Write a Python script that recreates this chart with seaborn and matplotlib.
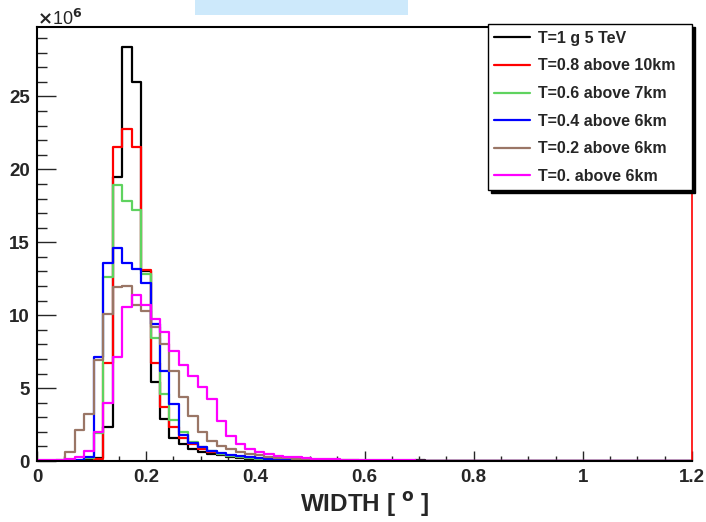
"""
WIDTH distributions for different atmospheric transmission settings (ROOT-style histogram look).
"""

import numpy as np
import pandas as pd
import matplotlib
matplotlib.use("Agg")
import matplotlib.pyplot as plt
import seaborn as sns
from matplotlib.lines import Line2D
from matplotlib.patches import Rectangle
from matplotlib.ticker import MultipleLocator

# histogram binning (fixed bin width, axis shows 0 - 1.2 deg)
BIN_WIDTH = 1.3 / 75
N_BINS = 70

# bin contents in units of 1e6 (first bins, rest empty)
T10 = [0, 0, 0, 0, 0.02, 0.05, 0.2, 2.3, 19.5, 28.4, 26.0, 13.0, 5.4, 2.9, 1.6,
       1.15, 0.85, 0.65, 0.5, 0.38, 0.28, 0.2, 0.15, 0.12, 0.1, 0.08, 0.06, 0.05,
       0.04, 0.03, 0.03, 0.02, 0.02, 0.02, 0.01, 0.01, 0.01, 0, 0, 0, 0.04, 0.03]
T08 = [0, 0, 0, 0, 0, 0.02, 0.15, 6.7, 21.5, 22.8, 21.5, 13.1, 6.7, 3.7, 2.3,
       1.6, 1.15, 0.82, 0.6, 0.45, 0.33, 0.25, 0.19, 0.15, 0.12, 0.09, 0.07, 0.05,
       0.04, 0.03, 0.03, 0.02, 0.02, 0.01, 0.01]
T06 = [0, 0, 0, 0, 0, 0.2, 1.9, 12.6, 18.9, 17.8, 17.2, 12.8, 8.4, 4.6, 2.8,
       1.96, 1.28, 0.95, 0.66, 0.48, 0.36, 0.27, 0.2, 0.16, 0.12, 0.1, 0.08, 0.06,
       0.05, 0.04, 0.03, 0.02, 0.02, 0.01]
T04 = [0, 0, 0, 0, 0.05, 0.3, 7.1, 13.6, 14.6, 13.6, 13.2, 12.2, 9.4, 6.2, 3.9,
       1.8, 1.2, 0.95, 0.7, 0.55, 0.42, 0.32, 0.25, 0.2, 0.16, 0.13, 0.1, 0.08,
       0.06, 0.05, 0.04, 0.03, 0.02, 0.02, 0.01]
T02 = [0, 0, 0.1, 0.6, 2.1, 3.2, 6.9, 10.1, 11.9, 12.0, 10.7, 10.3, 9.2, 8.0, 6.2,
       4.4, 3.1, 1.96, 1.4, 1.0, 0.82, 0.6, 0.48, 0.38, 0.3, 0.24, 0.19, 0.15,
       0.12, 0.1, 0.08, 0.06, 0.05, 0.04, 0.03, 0.02, 0.02, 0.01]
T00 = [0.08, 0.08, 0.1, 0.12, 0.25, 0.7, 2.0, 4.0, 7.1, 10.55, 11.35, 10.67, 9.75,
       8.83, 7.57, 6.55, 5.86, 5.06, 4.26, 2.77, 1.74, 1.17, 0.82, 0.6, 0.45, 0.36,
       0.3, 0.25, 0.2, 0.17, 0.14, 0.12, 0.1, 0.09, 0.08, 0.07, 0.06, 0.05, 0.04,
       0.04, 0.03, 0.03, 0.02, 0.02, 0.02, 0.01, 0.01]

LABELS = ["T=1 g 5 TeV", "T=0.8 above 10km", "T=0.6 above 7km",
          "T=0.4 above 6km", "T=0.2 above 6km", "T=0. above 6km"]
COLORS = ["#000000", "#ff0000", "#5fd35f", "#0000ff", "#9a7666", "#ff00ff"]
SERIES = [T10, T08, T06, T04, T02, T00]

X_TICKS = [0, 0.2, 0.4, 0.6, 0.8, 1.0, 1.2]
X_TICKLABELS = ["0", "0.2", "0.4", "0.6", "0.8", "1", "1.2"]
Y_TICKS = [0, 5, 10, 15, 20, 25]


def main():
    sns.set_theme(style="white")
    plt.rcParams["font.family"] = ["Liberation Sans", "DejaVu Sans"]
    plt.rcParams["font.weight"] = "bold"

    edges = np.arange(N_BINS + 1) * BIN_WIDTH
    centers = 0.5 * (edges[:-1] + edges[1:])

    fig = plt.figure(figsize=(7.06, 5.22), dpi=100)
    ax = fig.add_axes([37 / 706, 61 / 522, 655 / 706, 434 / 522])

    for label, color, vals in zip(LABELS, COLORS, SERIES):
        counts = np.zeros(N_BINS)
        counts[:len(vals)] = vals
        df = pd.DataFrame({"width": centers, "count": counts})
        sns.histplot(
            data=df, x="width", weights="count", bins=edges.tolist(),
            element="step", fill=False, color=color, linewidth=1.6,
            ax=ax,
        )

    ax.set_xlim(0, 1.2)
    ax.set_ylim(0, 29.76)
    ax.set_xticks(X_TICKS, X_TICKLABELS)
    ax.set_yticks(Y_TICKS, [str(t) for t in Y_TICKS])
    ax.xaxis.set_minor_locator(MultipleLocator(0.05))
    ax.yaxis.set_minor_locator(MultipleLocator(1))
    ax.tick_params(axis="x", which="major", direction="in", length=7, width=1,
                   labelsize=13.5, pad=6, bottom=True)
    ax.tick_params(axis="x", which="minor", direction="in", length=3.6, width=1,
                   bottom=True)
    ax.tick_params(axis="y", which="major", direction="in", length=13.5, width=1,
                   labelsize=13.5, pad=5, left=True)
    ax.tick_params(axis="y", which="minor", direction="in", length=7, width=1,
                   left=True)
    ax.set_xlabel("")
    ax.set_ylabel("")
    ax.grid(False)

    for side in ["left", "bottom", "top"]:
        ax.spines[side].set_color("black")
        ax.spines[side].set_linewidth(1.5)
    ax.spines["right"].set_color("red")
    ax.spines["right"].set_linewidth(1.2)

    fig.text(365 / 706, 10 / 522, "WIDTH [ $^{\\mathrm{o}}$ ]", ha="center",
             va="baseline", fontsize=17.5, fontweight="bold")
    fig.text(37 / 706, 1 - 25 / 522, r"$\times$10$^{6}$", ha="left",
             va="baseline", fontsize=13, fontweight="normal")

    # leftover title box of the canvas
    fig.patches.append(Rectangle((195 / 706, 1 - 15 / 522), 213 / 706, 15 / 522,
                                 transform=fig.transFigure, facecolor="#cde9fb",
                                 edgecolor="none"))

    handles = [Line2D([], [], color=c, linewidth=1.6) for c in COLORS]
    leg = fig.legend(
        handles, LABELS,
        loc="upper left",
        bbox_to_anchor=(488 / 706, 1 - 25 / 522, 204 / 706, 0.001),
        mode="expand",
        borderaxespad=0,
        fontsize=11.5,
        frameon=True,
        fancybox=False,
        shadow={"color": "black", "alpha": 1},
        handlelength=2.2,
        handletextpad=0.5,
        labelspacing=0.79,
        borderpad=0.4,
    )
    leg.get_frame().set_edgecolor("black")
    leg.get_frame().set_linewidth(1)
    leg.get_frame().set_alpha(1)

    fig.savefig("out.png", dpi=100)


if __name__ == "__main__":
    main()
